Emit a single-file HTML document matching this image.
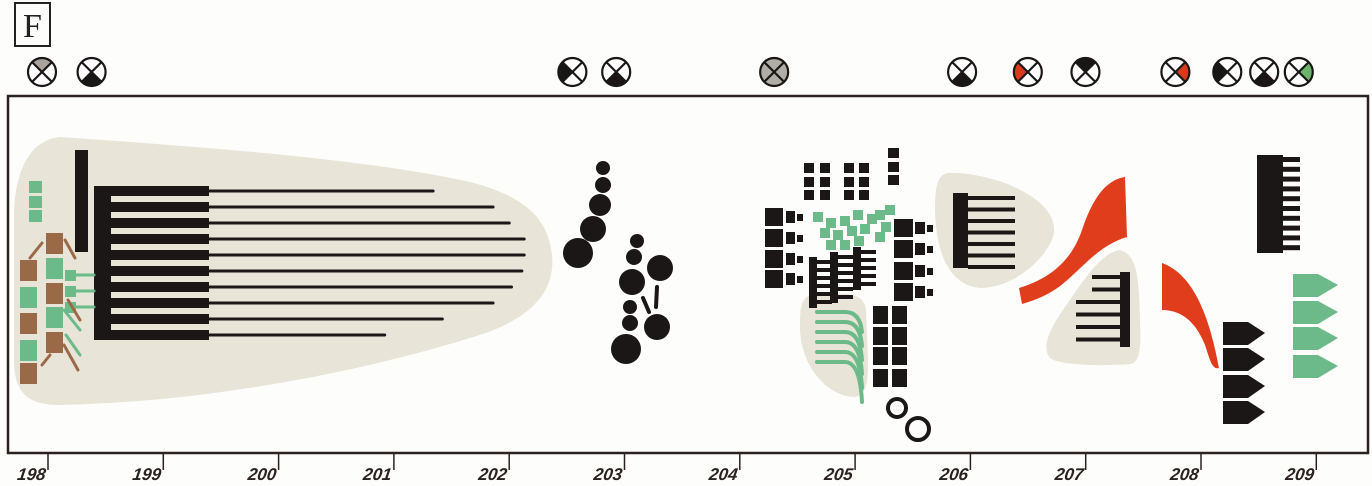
<!DOCTYPE html>
<html><head><meta charset="utf-8"><style>
html,body{margin:0;padding:0;background:#fdfdfb;}
svg{display:block;}
text{font-family:"Liberation Sans",sans-serif;}
</style></head><body>
<svg id="chart" width="1372" height="486" viewBox="0 0 1372 486" xmlns="http://www.w3.org/2000/svg">
<rect x="0" y="0" width="1372" height="486" fill="#fdfdfb"/>
<g>
<rect x="15" y="3" width="35" height="43" fill="none" stroke="#222" stroke-width="2"/>
<text x="32.5" y="37" text-anchor="middle" style="font-family:'Liberation Serif',serif" font-size="34" fill="#222">F</text>
</g>
<rect x="8" y="96" width="1360" height="357" fill="none" stroke="#2a2220" stroke-width="2.5"/>

<g fill="#e8e4d8">
<path d="M60,137 C30,140 15,170 14,215 L14,360 C14,395 30,405 60,405 C200,402 350,375 470,338 C540,318 555,285 552,255 C548,215 520,195 470,182 C380,162 250,150 60,137 Z"/>
<path d="M812,295 C800,297 800,310 800,330 C802,370 830,397 855,397 C866,395 868,385 868,360 L866,310 C865,298 855,293 840,294 Z"/>
<path d="M948,173 C936,175 935,190 935,210 C936,255 950,285 980,288 C1010,288 1040,265 1052,240 C1060,220 1045,200 1010,185 C990,177 965,172 948,173 Z"/>
<path d="M1120,250 C1105,252 1090,270 1070,300 C1052,325 1040,345 1050,358 C1060,366 1110,366 1130,364 C1140,362 1141,350 1140,320 C1139,280 1138,255 1120,250 Z"/>
</g>

<g id="marks"></g>
<g id="icons"></g>
<g id="axis"></g>
</svg>
<script>
const tickValues = [198,199,200,201,202,203,204,205,206,207,208,209];
const tickLabels = ["198","199","200","201","202","203","204","205","206","207","208","209"];
const iconPositions = [198.0, 198.43, 202.6, 202.98, 204.35, 205.98, 206.55, 207.05, 207.83, 208.28, 208.6, 208.9];
const iconFills = [["top","#a8a39d"],["bottom","#1a1616"],["left","#1a1616"],["bottom","#1a1616"],["all","#b0aca6"],["bottom","#1a1616"],["left","#d93a1c"],["top","#1a1616"],["right","#d93a1c"],["left","#1a1616"],["bottom","#1a1616"],["right","#6db36e"]];
const combEnds = [201.34, 201.86, 202.0, 202.13, 202.13, 202.11, 202.02, 201.86, 201.42, 200.92];

const NS = "http://www.w3.org/2000/svg";
const X0 = 48, STEP = 115.3, AXIS_Y = 453;
function xs(v){ return X0 + (v - 198) * STEP; }
function mk(tag, attrs, parent){ const e = document.createElementNS(NS, tag); for (const k in attrs) e.setAttribute(k, attrs[k]); parent.appendChild(e); return e; }

const axis = document.getElementById('axis');
tickValues.forEach((v,i)=>{
  const x = xs(v);
  const t = mk('line',{x1:x,y1:AXIS_Y,x2:x,y2:470,stroke:'#2a2220','stroke-width':1.5},axis);
  
  
  const l = mk('text',{x:x-3,y:480,'text-anchor':'end','font-size':17,'font-style':'italic','font-weight':'bold',fill:'#2a2220'},axis);
  l.setAttribute('transform',`translate(${(480)*Math.tan(8*Math.PI/180)},0) skewX(-8)`);
  l.textContent = tickLabels[i];
  
  
});

const icons = document.getElementById('icons');
iconPositions.forEach((v,i)=>{
  const cx = xs(v) - 6, cy = 72, r = 14;
  const g = mk('g',{},icons);
  
  
  const [q,col] = iconFills[i];
  mk('circle',{cx,cy,r,fill:q==='all'?col:'#fff'},g);
  const d = r*0.7071;
  const pts = {top:[[-d,-d],[d,-d]],right:[[d,-d],[d,d]],bottom:[[d,d],[-d,d]],left:[[-d,d],[-d,-d]]};
  if(q!=='all'){
    const [a,b]=pts[q];
    mk('path',{d:`M${cx},${cy} L${cx+a[0]},${cy+a[1]} A${r},${r} 0 0 1 ${cx+b[0]},${cy+b[1]} Z`,fill:col},g);
  }
  mk('circle',{cx,cy,r,fill:'none',stroke:'#1a1616','stroke-width':2.2},g);
  mk('line',{x1:cx-d,y1:cy-d,x2:cx+d,y2:cy+d,stroke:'#1a1616','stroke-width':2.2},g);
  mk('line',{x1:cx+d,y1:cy-d,x2:cx-d,y2:cy+d,stroke:'#1a1616','stroke-width':2.2},g);
});

const M = document.getElementById('marks');
const K='#1c1717', G='#6cb98a', B='#9a6a48', R='#e03d1c';
function rect(x,y,w,h,f,name){ const e=mk('rect',{x,y,width:w,height:h,fill:f},M);   return e; }
function circ(cx,cy,r,name){ const e=mk('circle',{cx,cy,r,fill:K},M);   }
function ln(x1,y1,x2,y2,c,w,name){ const e=mk('line',{x1,y1,x2,y2,stroke:c,'stroke-width':w,'stroke-linecap':'round'},M);   }
function path(d,f,name){ const e=mk('path',{d,fill:f},M);   }

rect(75,150,13,102,K,'vertical-bar');
rect(94,186,17,154,K,'comb-spine');
combEnds.forEach((v,i)=>{
  const y = 191 + i*16;
  rect(111,y-5,98,10,K,'comb-tooth-thick');
  ln(209,y,xs(v),y,K,3,'comb-tooth-line');
});
[181,196,210].forEach(y=>rect(29,y,13,12,G,'green-square'));
[[20,260,B],[20,287,G],[20,313,B],[20,340,G],[20,363,B],[46,233,B],[46,258,G],[46,283,B],[46,307,G],[46,332,B]].forEach(a=>rect(a[0],a[1],17,21,a[2],'block-square'));
[270,286,302].forEach(y=>{rect(65,y,11,11,G,'green-small-square'); ln(76,y+5,94,y+5,G,3,'green-connector');});
ln(30,258,42,243,B,3,'brown-stroke'); ln(65,240,75,258,B,3,'brown-stroke');
ln(64,310,80,330,G,3,'green-stroke'); ln(66,335,80,355,G,3,'green-stroke');
ln(64,345,78,370,B,3,'brown-stroke'); ln(42,365,50,355,B,3,'brown-stroke');
ln(68,300,80,320,B,3,'brown-stroke');

[[603,168,7],[603,185,8],[600,205,11],[593,229,13],[578,253,15],[637,241,7],[634,257,8],[632,282,13],[660,268,13],[630,307,7],[630,323,8],[657,327,13],[626,349,15]].forEach(c=>circ(c[0],c[1],c[2],'dot'));
ln(657,287,656,307,K,4,'stick'); ln(643,298,649,312,K,4,'stick');

[804,820,844,859].forEach(x=>[163,177,190].forEach(y=>rect(x,y,10,10,K,'small-square')));
[148,162,175].forEach(y=>rect(888,y,11,10,K,'small-square'));
[208,229,250,270].forEach(y=>{rect(765,y,18,18,K,'big-square');rect(786,y+3,9,12,K,'mid-square');rect(797,y+6,6,7,K,'knob');});
[219,240,262,283].forEach(y=>{rect(894,y,19,18,K,'big-square');rect(915,y+3,10,12,K,'mid-square');rect(927,y+6,6,7,K,'knob');});
[[813,212],[826,218],[840,216],[853,210],[867,214],[820,228],[833,230],[847,226],[860,224],[826,240],[840,240],[854,236],[875,210],[881,222],[875,232],[885,205]].forEach(p=>rect(p[0],p[1],10,10,G,'green-square'));
[[809,257,308],[830,252,303],[853,247,290]].forEach(c=>{
  rect(c[0],c[1],8,c[2]-c[1],K,'small-comb-spine');
  for(let y=c[1]+3;y<c[2];y+=8) rect(c[0]+8,y,15,4,K,'small-comb-tooth');
});
for(let i=0;i<6;i++){ const y=312+i*10; const e=mk('path',{d:`M817,${y} L845,${y} Q860,${y} 862,${y+20+i*4}`,fill:'none',stroke:G,'stroke-width':4,'stroke-linecap':'round'},M);   }
[306,327,347,369].forEach(y=>{rect(873,y,15,18,K,'square');rect(892,y,15,18,K,'square');});
[[897,408,9],[918,429,11]].forEach(c=>{const e=mk('circle',{cx:c[0],cy:c[1],r:c[2],fill:'none',stroke:K,'stroke-width':4},M);  });

rect(953,193,15,75,K,'comb-spine');
for(let i=0;i<7;i++) rect(968,196+i*11.5,47,4,K,'comb-tooth');
path('M1125,177 L1127,237 C1100,245 1085,265 1065,282 C1050,295 1035,300 1022,304 L1019,288 C1045,280 1070,265 1082,230 C1092,200 1105,180 1125,177 Z',R,'red-shape');
rect(1120,272,10,75,K,'comb-spine');
for(let i=0;i<6;i++){ const w = i<2? 28:44; rect(1120-w,275+i*12.5,w,4,K,'comb-tooth'); }

path('M1162,263 C1195,275 1210,320 1219,368 C1212,370 1210,360 1205,345 C1195,320 1180,310 1162,310 Z',R,'red-shape');
[322,348,375,401].forEach(y=>path(`M1223,${y} L1248,${y} L1265,${y+11} L1248,${y+23} L1223,${y+23} Z`,K,'black-arrow'));
[274,301,327,355].forEach(y=>path(`M1293,${y} L1318,${y} L1338,${y+11} L1318,${y+23} L1293,${y+23} Z`,G,'green-arrow'));
rect(1257,155,26,98,K,'comb-spine');
for(let i=0;i<10;i++) rect(1283,157+i*9.8,17,5,K,'comb-tooth');
</script>
</body></html>
